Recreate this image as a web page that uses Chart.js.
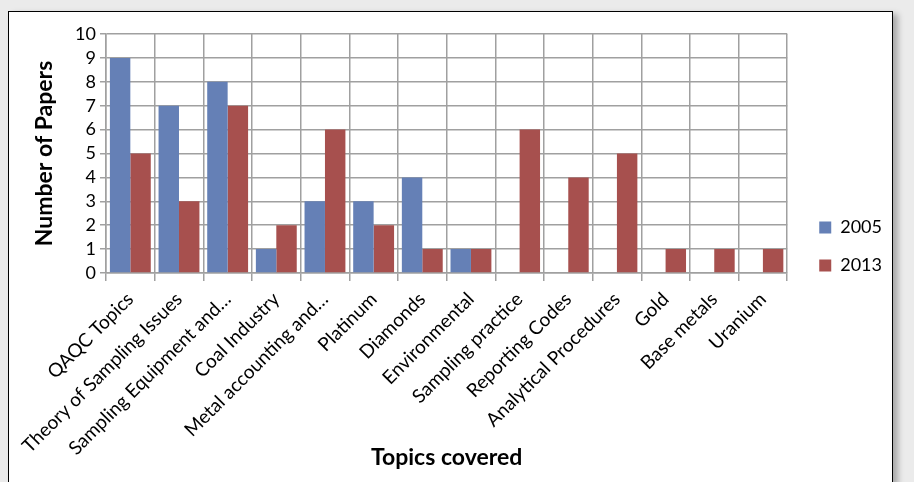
<!DOCTYPE html>
<html>
<head>
<meta charset="utf-8">
<script src="https://cdn.jsdelivr.net/npm/chart.js@4"></script>
<style>
  html, body { margin: 0; padding: 0; background: #EBEBEB; width: 914px; height: 482px; overflow: hidden; }
  #panel { position: absolute; left: 8px; top: 11px; width: 883px; height: 471px; border: 1px solid #000; background: #fff; box-shadow: 5px 3px 6px rgba(0,0,0,0.28); }
  canvas { display: block; }
</style>
</head>
<body>
<div id="panel"><canvas id="c" width="883" height="471"></canvas></div>
<script>
const categories = ["QAQC Topics", "Theory of Sampling Issues", "Sampling Equipment and…", "Coal Industry", "Metal accounting and…", "Platinum", "Diamonds", "Environmental", "Sampling practice", "Reporting Codes", "Analytical Procedures", "Gold", "Base metals", "Uranium"];
const series2005 = [9, 7, 8, 1, 3, 3, 4, 1, 0, 0, 0, 0, 0, 0];
const series2013 = [5, 3, 7, 2, 6, 2, 1, 1, 6, 4, 5, 1, 1, 1];
const seriesNames = ["2005", "2013"];
const yTicks = [0, 1, 2, 3, 4, 5, 6, 7, 8, 9, 10];

const FONT = "Lato, 'Open Sans', sans-serif";
const GRID = '#A0A0A0';
const TARGET_RIGHT = 781;

const legendShift = {
  id: 'legendShift',
  afterLayout(chart) {
    const l = chart.legend;
    if (l) { l.top -= 12; l.bottom -= 12; }
  }
};

const chart = new Chart(document.getElementById('c'), {
  type: 'bar',
  data: {
    labels: categories,
    datasets: [
      { label: seriesNames[0], data: series2005, backgroundColor: '#6580B6', borderWidth: 0, barPercentage: 1, categoryPercentage: 0.84 },
      { label: seriesNames[1], data: series2013, backgroundColor: '#A7504E', borderWidth: 0, barPercentage: 1, categoryPercentage: 0.84 }
    ]
  },
  plugins: [legendShift],
  options: {
    responsive: false,
    animation: false,
    layout: { padding: { top: 22, left: 0, bottom: 0, right: 0 } },
    plugins: {
      tooltip: { enabled: false },
      legend: {
        position: 'right',
        labels: { boxWidth: 12, boxHeight: 12, padding: 20, color: '#000', font: { family: FONT, size: 18 } }
      }
    },
    scales: {
      x: {
        type: 'category',
        grid: { offset: true, color: GRID, lineWidth: 1.5, tickLength: 8, drawTicks: true },
        border: { color: GRID, width: 1.5 },
        ticks: { minRotation: 45, maxRotation: 45, autoSkip: false, color: '#000', padding: 7, font: { family: FONT, size: 19 } },
        title: { display: true, text: 'Topics covered', color: '#000', font: { family: FONT, size: 23, weight: 'bold' }, padding: { top: 0, bottom: 12 } },
        afterFit: s => { s.height = 471 - 261; }
      },
      y: {
        min: 0, max: 10,
        afterBuildTicks: s => { s.ticks = yTicks.map(v => ({ value: v })); },
        grid: { color: GRID, lineWidth: 1.5, tickLength: 6 },
        border: { color: GRID, width: 1.5 },
        ticks: { autoSkip: false, color: '#000', padding: 4, font: { family: FONT, size: 18 } },
        title: { display: true, text: 'Number of Papers', color: '#000', font: { family: FONT, size: 23, weight: 'bold' }, padding: { top: 22, bottom: 0 } },
        afterFit: s => { s.width = 97; }
      },
      gap: {
        type: 'linear', position: 'right', display: true,
        grid: { display: false }, border: { display: false }, ticks: { display: false },
        afterFit: s => { s.width = 12; }
      }
    }
  }
});
const diff = chart.chartArea.right - TARGET_RIGHT;
if (Math.abs(diff) > 0.5) {
  chart.options.layout.padding.right = Math.max(0, diff);
  chart.update('none');
}
</script>
</body>
</html>
